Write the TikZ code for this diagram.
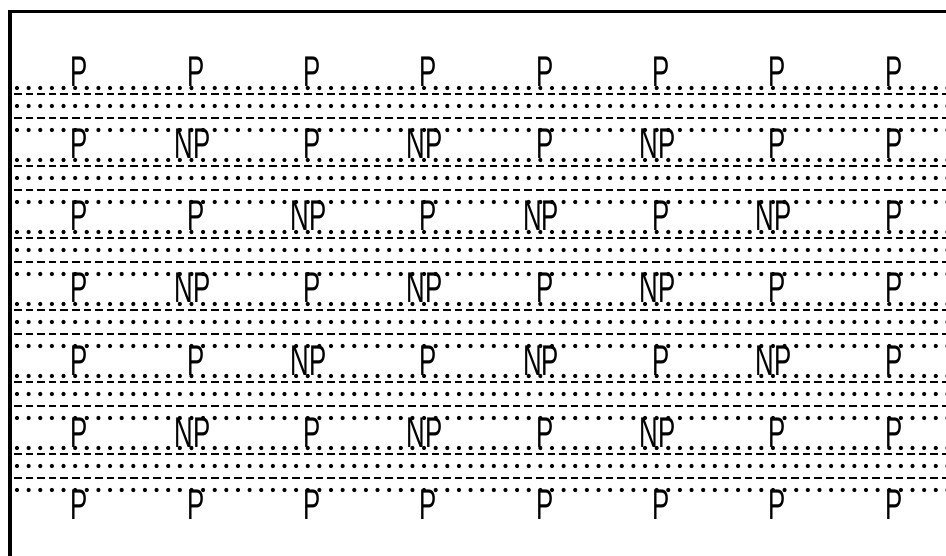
\documentclass[tikz,border=0pt]{standalone}
\usepackage{fontspec}
\setmainfont{Liberation Sans}
\newcommand\narrowlbl[1]{\scalebox{0.6}[1]{#1}}
\begin{document}
\begin{tikzpicture}[x=1pt,y=-1pt,
  lab/.style={anchor=base,inner sep=0pt,font=\fontsize{43}{43}\selectfont},
  dashrow/.style={line width=2.6pt,dash pattern=on 7.5pt off 4.1pt},
  frameline/.style={line width=3.5pt}]
\useasboundingbox (0,0) rectangle (946,556);
\draw[frameline] (10,556) -- (10,11.5) -- (946,11.5);
\foreach \k in {0,...,5} {
  \pgfmathsetmacro\b{88+72*\k}
  \fill \foreach \i in {0,...,80} { (17+11.63*\i,\b) circle[radius=2.1pt] };
  \draw[dashrow] (14,\b+6) -- (946,\b+6);
  \fill \foreach \i in {0,...,80} { (17+11.63*\i,\b+18) circle[radius=2.1pt] };
  \draw[dashrow] (14,\b+30) -- (946,\b+30);
  \fill \foreach \i in {0,...,80} { (17+11.63*\i,\b+42) circle[radius=2.1pt] };
}
\def\tp{P}
\foreach \row [count=\r] in {
  {P,P,P,P,P,P,P,P},
  {P,NP,P,NP,P,NP,P,P},
  {P,P,NP,P,NP,P,NP,P},
  {P,NP,P,NP,P,NP,P,P},
  {P,P,NP,P,NP,P,NP,P},
  {P,NP,P,NP,P,NP,P,P},
  {P,P,P,P,P,P,P,P}} {
  \foreach \t [count=\c] in \row {
    \ifx\t\tp
      \pgfmathsetmacro\xx{79.5+116.3*(\c-1)}
    \else
      \pgfmathsetmacro\xx{76+116.3*(\c-1)}
    \fi
    \pgfmathsetmacro\yy{87+72*(\r-1)}
    \node[lab] (n\r-\c) at (\xx,\yy) {\narrowlbl{\t}};
  }
}
\end{tikzpicture}
\end{document}
